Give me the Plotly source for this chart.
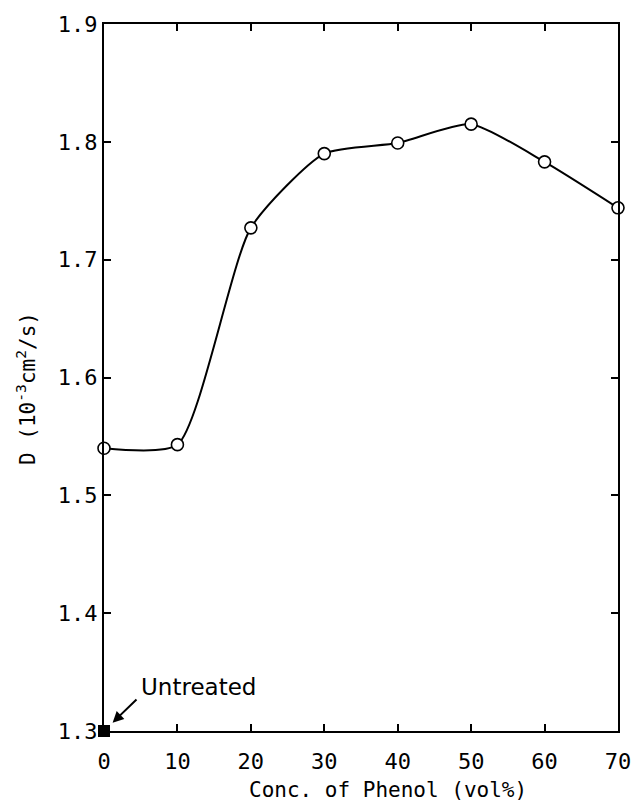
import plotly.graph_objects as go

# Diffusion coefficient vs. phenol concentration
conc_phenol = [0, 10, 20, 30, 40, 50, 60, 70]
diffusivity = [1.540, 1.543, 1.727, 1.790, 1.799, 1.815, 1.783, 1.744]

untreated_x = [0]
untreated_y = [1.30]

x_ticks = [0, 10, 20, 30, 40, 50, 60, 70]
y_ticks = [1.3, 1.4, 1.5, 1.6, 1.7, 1.8, 1.9]

MONO = "DejaVu Sans Mono"

fig = go.Figure()

fig.add_trace(go.Scatter(
    x=conc_phenol, y=diffusivity,
    mode="lines+markers",
    line=dict(color="black", width=2, shape="spline", smoothing=0.6),
    marker=dict(symbol="circle", size=12, color="white",
                line=dict(color="black", width=1.6)),
    cliponaxis=False, showlegend=False,
))

fig.add_trace(go.Scatter(
    x=untreated_x, y=untreated_y,
    mode="markers",
    marker=dict(symbol="square", size=12, color="black"),
    cliponaxis=False, showlegend=False,
))

axis_common = dict(
    showline=True, linecolor="black", linewidth=2, mirror="ticks",
    ticks="inside", ticklen=7, tickwidth=2, tickcolor="black",
    showgrid=False, zeroline=False,
    tickfont=dict(family=MONO, size=22, color="black"),
)

fig.update_xaxes(range=[0, 70], tickvals=x_ticks,
                 ticktext=[str(v) for v in x_ticks],
                 ticklabelstandoff=10, **axis_common)
fig.update_yaxes(range=[1.3, 1.9], tickvals=y_ticks,
                 ticktext=[f"{v:.1f}" for v in y_ticks], **axis_common)

annotations = [
    # arrow pointing at the untreated sample
    dict(x=0, y=1.30, xref="x", yref="y", text="", showarrow=True,
         ax=34, ay=-33, arrowhead=2, arrowsize=1.1, arrowwidth=2,
         arrowcolor="black", standoff=12),
    dict(x=4.8, y=1.3372, xref="x", yref="y", text="Untreated",
         showarrow=False, xanchor="left", yanchor="middle",
         font=dict(family="DejaVu Sans", size=23, color="black")),
    # axis titles
    dict(x=0.552, y=-0.083, xref="paper", yref="paper",
         text="Conc. of Phenol (vol%)", showarrow=False,
         xanchor="center", yanchor="middle",
         font=dict(family=MONO, size=21, color="black")),
    dict(x=-0.152, y=0.485, xref="paper", yref="paper",
         text="D (10<sup>-3</sup>cm<sup>2</sup>/s)", showarrow=False,
         textangle=-90, xanchor="center", yanchor="middle",
         font=dict(family=MONO, size=21, color="black")),
]

fig.update_layout(
    width=643, height=811,
    margin=dict(l=104, r=13, t=22, b=80),
    paper_bgcolor="white", plot_bgcolor="white",
    annotations=annotations,
)

fig.write_html("out.html")
